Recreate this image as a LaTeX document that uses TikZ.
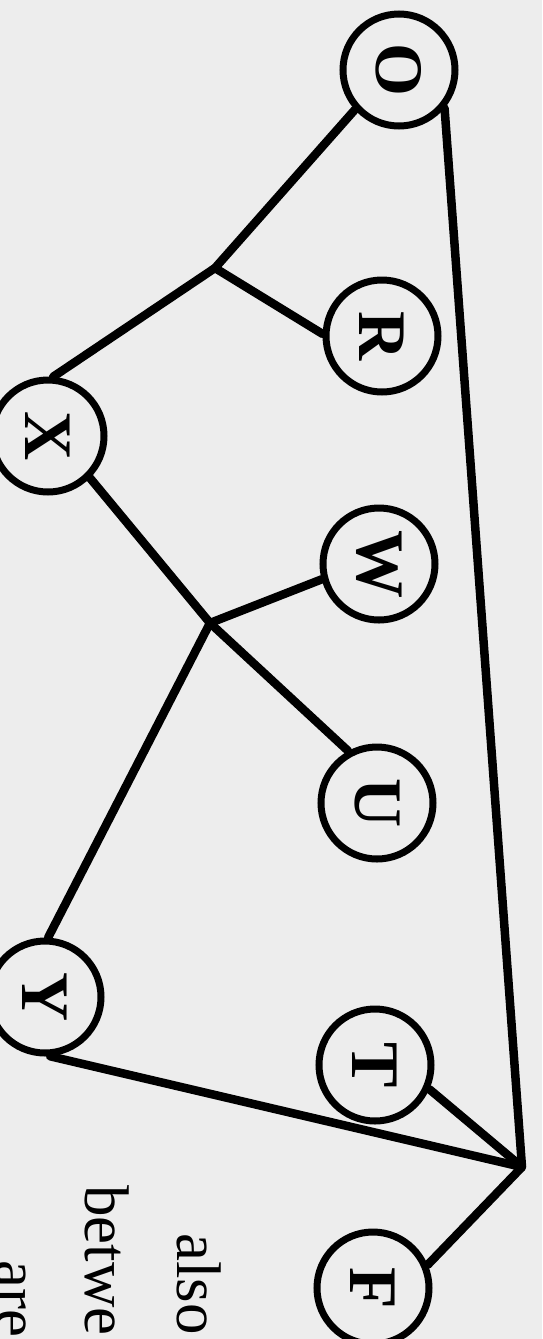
\documentclass[tikz,border=0pt]{standalone}
\usepackage{fontspec}
\setmainfont{Liberation Serif}
\usepackage{graphicx}
\definecolor{paper}{RGB}{237,237,237}

\begin{document}
\begin{tikzpicture}[
  x=1pt, y=-1pt,
  taxon/.style={draw, circle, line width=7pt, minimum size=112pt, inner sep=0pt,
    font=\fontsize{68}{68}\selectfont\bfseries},
  branch/.style={line width=8.5pt, line cap=round, line join=round},
  caption/.style={rotate=-90, anchor=base west, inner sep=0pt,
    font=\fontsize{63}{63}\selectfont}
]
\useasboundingbox (0,0) rectangle (542,1339);
\fill[paper] (0,0) rectangle (542,1339);
\clip (0,0) rectangle (542,1339);

\node[taxon] (O) at (399,70) {\rotatebox{-90}{O}};
\node[taxon] (R) at (382,336) {\rotatebox{-90}{R}};
\node[taxon] (X) at (48,436) {\rotatebox{-90}{X}};
\node[taxon] (W) at (379,564) {\rotatebox{-90}{W}};
\node[taxon] (U) at (377,803) {\rotatebox{-90}{U}};
\node[taxon] (Y) at (45,997) {\rotatebox{-90}{Y}};
\node[taxon] (T) at (375,1065) {\rotatebox{-90}{T}};
\node[taxon] (F) at (373,1288) {\rotatebox{-90}{F}};

\coordinate (J1) at (215,268);
\coordinate (J2) at (210,623);
\coordinate (J3) at (522,1167);

\draw[branch] (O.222) -- (J1) -- (X.85);
\draw[branch] (J1) -- (R.178);
\draw[branch] (X.-45) -- (J2) -- (U.119);
\draw[branch] (J2) -- (W.195);
\draw[branch] (J2) -- (Y.87);
\draw[branch] (O.-40) -- (J3) -- (Y.-85);
\draw[branch] (T.-24) -- (J3) -- (F.23);

\node[caption] (also) at (177,1233) {also};
\node[caption] (betw) at (85,1185) {betwe};
\node[caption] (are) at (-3,1260) {are};
\end{tikzpicture}
\end{document}
